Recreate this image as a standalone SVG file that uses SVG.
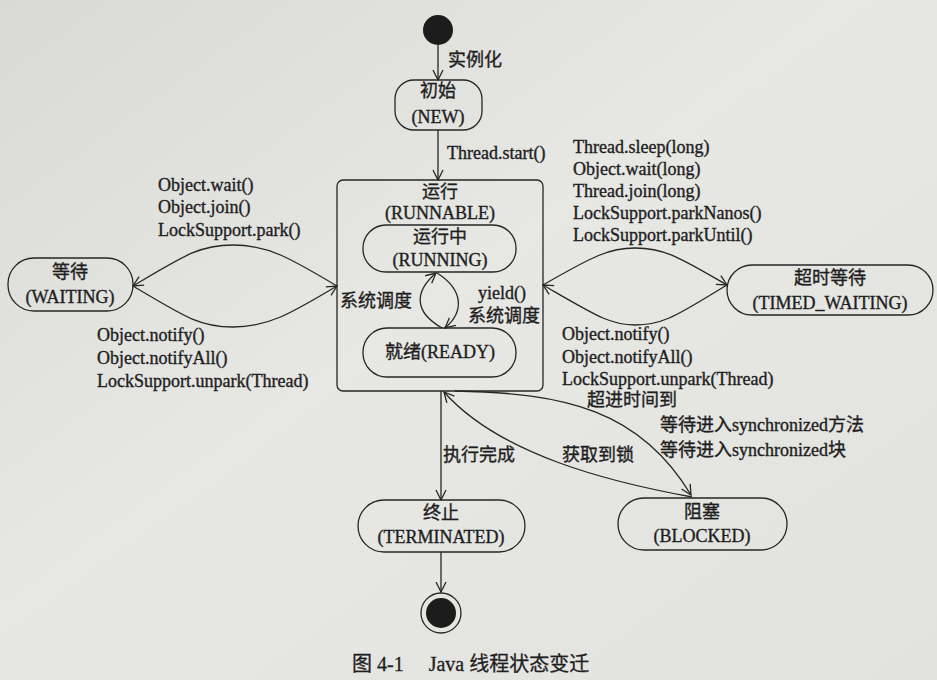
<svg xmlns="http://www.w3.org/2000/svg" width="937" height="680" viewBox="0 0 937 680">
  <defs>
    <linearGradient id="bg" x1="0" y1="0" x2="1" y2="1">
      <stop offset="0" stop-color="#d9d9d6"/>
      <stop offset="0.45" stop-color="#e7e7e4"/>
      <stop offset="1" stop-color="#e2e2df"/>
    </linearGradient>
    <marker id="arr" viewBox="0 0 12 12" refX="11" refY="6" markerWidth="12" markerHeight="12" markerUnits="userSpaceOnUse" orient="auto">
      <path d="M1,1 L11,6 L1,11" fill="none" stroke="#262626" stroke-width="1.3"/>
    </marker>
    <style>
      .t { font-family: 'Liberation Serif', 'Noto Sans CJK SC', serif; font-size: 18px; fill: #1e1e1e; stroke: #1e1e1e; stroke-width: 0.35; dominant-baseline: central; }
      .c { text-anchor: middle; }
      .node { fill: none; stroke: #262626; stroke-width: 1.3; }
      .edge { fill: none; stroke: #262626; stroke-width: 1.3; marker-end: url(#arr); }
      .cap { font-family: 'Liberation Serif', 'Noto Sans CJK SC', serif; font-size: 20px; fill: #1e1e1e; stroke: #1e1e1e; stroke-width: 0.3; dominant-baseline: central; }
    </style>
  </defs>

  <rect x="0" y="0" width="937" height="680" fill="url(#bg)"/>

  <g id="connectors">
    <line class="edge" x1="438" y1="45" x2="438" y2="80"/>
    <line class="edge" x1="438" y1="130" x2="438" y2="180"/>
    <path class="edge" d="M337,286 C290,258 268,245 233,245 C200,245 185,255 133,286"/>
    <path class="edge" d="M133,286 C185,317 200,327 233,327 C268,327 290,314 337,286"/>
    <path class="edge" d="M543,285 C595,255 610,248 635,248 C665,248 680,258 727,285"/>
    <path class="edge" d="M727,285 C680,313 665,325 635,325 C610,325 595,315 543,285"/>
    <path class="edge" d="M442,328 C414,312 414,292 436,273"/>
    <path class="edge" d="M437,273 C464,290 464,312 445,328"/>
    <line class="edge" x1="441" y1="391" x2="441" y2="500"/>
    <line class="edge" x1="441" y1="552" x2="441" y2="592"/>
    <path class="edge" d="M455,391 C565,393 640,410 691,495"/>
    <path class="edge" d="M692,497 C610,482 500,455 444,392"/>
  </g>

  <g id="start">
    <circle cx="438" cy="30" r="15" fill="#1c1c1c"/>
  </g>

  <g id="new">
    <rect class="node" x="395" y="80" width="87" height="50" rx="19" ry="19"/>
    <text class="t c" x="438" y="91">初始</text>
    <text class="t c" x="438" y="117">(NEW)</text>
  </g>

  <g id="runnable">
    <rect class="node" x="337" y="180" width="206" height="211" rx="6" ry="6"/>
    <text class="t c" x="440" y="192">运行</text>
    <text class="t c" x="440" y="213">(RUNNABLE)</text>
  </g>

  <g id="running">
    <rect class="node" x="363" y="225" width="153" height="47" rx="23" ry="23"/>
    <text class="t c" x="440" y="237">运行中</text>
    <text class="t c" x="440" y="260">(RUNNING)</text>
  </g>

  <g id="ready">
    <rect class="node" x="363" y="328" width="153" height="49" rx="24" ry="24"/>
    <text class="t c" x="440" y="352">就绪(READY)</text>
  </g>

  <g id="waiting">
    <rect class="node" x="8" y="258" width="125" height="53" rx="26" ry="26"/>
    <text class="t c" x="70" y="272">等待</text>
    <text class="t c" x="70" y="297">(WAITING)</text>
  </g>

  <g id="timed_waiting">
    <rect class="node" x="727" y="265" width="206" height="50" rx="25" ry="25"/>
    <text class="t c" x="830" y="278">超时等待</text>
    <text class="t c" x="830" y="303">(TIMED_WAITING)</text>
  </g>

  <g id="terminated">
    <rect class="node" x="358" y="500" width="167" height="52" rx="26" ry="26"/>
    <text class="t c" x="441" y="513">终止</text>
    <text class="t c" x="441" y="537">(TERMINATED)</text>
  </g>

  <g id="blocked">
    <rect class="node" x="618" y="498" width="169" height="52" rx="26" ry="26"/>
    <text class="t c" x="702" y="512">阻塞</text>
    <text class="t c" x="702" y="536">(BLOCKED)</text>
  </g>

  <g id="end">
    <circle cx="441" cy="613" r="20" fill="none" stroke="#262626" stroke-width="1.3"/>
    <circle cx="441" cy="613" r="15" fill="#1c1c1c"/>
  </g>

  <g id="labels">
    <text class="t" x="448" y="60">实例化</text>
    <text class="t" x="447" y="153">Thread.start()</text>

    <text class="t" x="158" y="185">Object.wait()</text>
    <text class="t" x="158" y="207">Object.join()</text>
    <text class="t" x="158" y="230">LockSupport.park()</text>

    <text class="t" x="97" y="335">Object.notify()</text>
    <text class="t" x="97" y="358">Object.notifyAll()</text>
    <text class="t" x="97" y="381">LockSupport.unpark(Thread)</text>

    <text class="t" x="573" y="147">Thread.sleep(long)</text>
    <text class="t" x="573" y="169">Object.wait(long)</text>
    <text class="t" x="573" y="191">Thread.join(long)</text>
    <text class="t" x="573" y="213">LockSupport.parkNanos()</text>
    <text class="t" x="573" y="235">LockSupport.parkUntil()</text>

    <text class="t" x="562" y="334">Object.notify()</text>
    <text class="t" x="562" y="357">Object.notifyAll()</text>
    <text class="t" x="562" y="379">LockSupport.unpark(Thread)</text>

    <text class="t" x="340" y="301">系统调度</text>
    <text class="t" x="478" y="293">yield()</text>
    <text class="t" x="468" y="316">系统调度</text>

    <text class="t" x="587" y="400">超进时间到</text>
    <text class="t" x="660" y="425">等待进入synchronized方法</text>
    <text class="t" x="660" y="450">等待进入synchronized块</text>
    <text class="t" x="562" y="455">获取到锁</text>
    <text class="t" x="443" y="455">执行完成</text>

    <text class="cap" x="352" y="664">图 4-1　 Java 线程状态变迁</text>
  </g>
</svg>
